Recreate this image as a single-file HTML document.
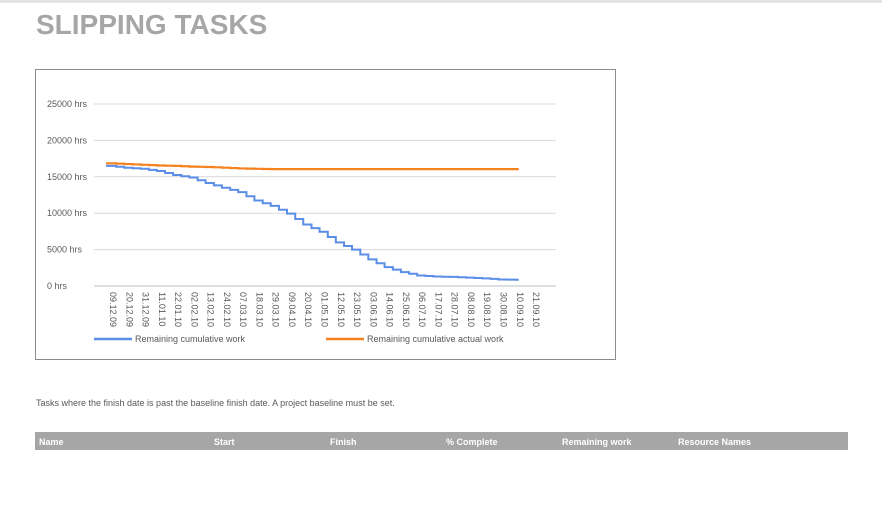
<!DOCTYPE html>
<html><head><meta charset="utf-8"><style>
body{margin:0;width:882px;height:507px;background:#fff;font-family:"Liberation Sans",Arial,sans-serif;position:relative;overflow:hidden}
.topbar{position:absolute;left:0;top:0;width:882px;height:3px;background:#e3e3e3}
h1{position:absolute;left:36px;top:9px;margin:0;font-size:28px;font-weight:bold;color:#a6a6a6;letter-spacing:0}
.box{position:absolute;left:35px;top:69px;width:579px;height:289px;border:1px solid #8c8c8c}
.desc{position:absolute;left:36px;top:398px;font-size:9px;color:#595959}
.thead{position:absolute;left:35px;top:432px;width:813px;height:18px;background:#a6a6a6}
.thead span{position:absolute;top:5px;font-size:9px;font-weight:bold;color:#fff}
</style></head><body>
<div class="topbar"></div>
<h1>SLIPPING TASKS</h1>
<div class="box"></div>
<svg id="chart" width="882" height="507" style="position:absolute;left:0;top:0"></svg>
<div class="desc">Tasks where the finish date is past the baseline finish date. A project baseline must be set.</div>
<div class="thead">
<span style="left:4px">Name</span>
<span style="left:179px">Start</span>
<span style="left:295px">Finish</span>
<span style="left:411px">% Complete</span>
<span style="left:527px">Remaining work</span>
<span style="left:643px">Resource Names</span>
</div>
<script>
const dateLabels=["09.12.09","20.12.09","31.12.09","11.01.10","22.01.10","02.02.10","13.02.10","24.02.10","07.03.10","18.03.10","29.03.10","09.04.10","20.04.10","01.05.10","12.05.10","23.05.10","03.06.10","14.06.10","25.06.10","06.07.10","17.07.10","28.07.10","08.08.10","19.08.10","30.08.10","10.09.10","21.09.10"];
const yTicks=[0,5000,10000,15000,20000,25000];
const remainingWork=[16500,16250,16100,15800,15250,14900,14150,13500,12900,11750,11000,9950,8450,7450,6000,5000,3650,2600,1900,1450,1300,1250,1150,1050,900,850];
const remainingActual=[16850,16750,16650,16550,16500,16400,16350,16250,16150,16100,16050,16050,16050,16050,16050,16050,16050,16050,16050,16050,16050,16050,16050,16050,16050,16050];
const NS="http://www.w3.org/2000/svg";
const svg=document.getElementById('chart');
const x0=112,dx=16.27,yBase=286,yTop=104,yMax=25000;
const xs=i=>x0+i*dx;
const ys=v=>yBase-(v/yMax)*(yBase-yTop);
function mk(t,a){const e=document.createElementNS(NS,t);for(const k in a)e.setAttribute(k,a[k]);svg.appendChild(e);return e;}
yTicks.forEach(v=>{
 const l=mk('line',{x1:94,x2:556,y1:ys(v),y2:ys(v),stroke:v===0?'#bfbfbf':'#d9d9d9','stroke-width':1});
 
 
 const t=mk('text',{x:47,y:ys(v)+3,'font-size':9,fill:'#595959','font-family':'Liberation Sans, sans-serif'});
 t.textContent=v+' hrs';
 
 
});
dateLabels.forEach((d,i)=>{
 const x=xs(i)-2;
 const t=mk('text',{x:x,y:292,'font-size':9,fill:'#595959','font-family':'Liberation Sans, sans-serif',transform:`rotate(90 ${x} 292)`});
 t.textContent=d;
 
 
});
function stepPath(vals){let p=`M${xs(0)-6},${ys(vals[0])}`;vals.forEach((v,i)=>{if(i>0){const mid=(vals[i-1]+v)/2;p+=` L${xs(i)-12},${ys(vals[i-1])} L${xs(i)-12},${ys(mid)} L${xs(i)-4},${ys(mid)} L${xs(i)-4},${ys(v)}`;}});p+=` L${xs(vals.length-1)},${ys(vals[vals.length-1])}`;return p;}
const a=mk('path',{d:stepPath(remainingActual),fill:'none',stroke:'#f5821f','stroke-width':2.2});


const b=mk('path',{d:stepPath(remainingWork),fill:'none',stroke:'#5b8ee6','stroke-width':2});


const l1=mk('line',{x1:94,x2:132,y1:339,y2:339,stroke:'#5b8ee6','stroke-width':2.5});


const t1=mk('text',{x:135,y:342,'font-size':9,fill:'#595959','font-family':'Liberation Sans, sans-serif'});t1.textContent='Remaining cumulative work';


const l2=mk('line',{x1:326,x2:364,y1:339,y2:339,stroke:'#f5821f','stroke-width':2.5});


const t2=mk('text',{x:367,y:342,'font-size':9,fill:'#595959','font-family':'Liberation Sans, sans-serif'});t2.textContent='Remaining cumulative actual work';


</script>
</body></html>
